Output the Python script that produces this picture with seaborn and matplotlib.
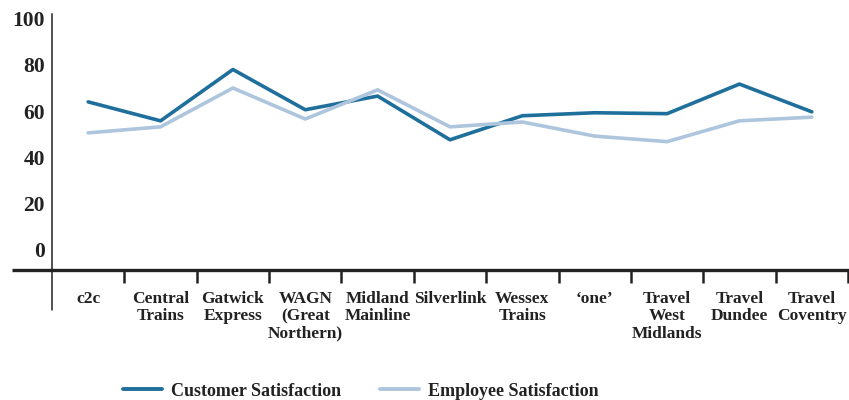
import pandas as pd
import numpy as np
import matplotlib
matplotlib.use('Agg')
import matplotlib.pyplot as plt
import seaborn as sns
from matplotlib.lines import Line2D

# Operators and satisfaction scores
operators = ['c2c', 'Central\nTrains', 'Gatwick\nExpress', 'WAGN\n(Great\nNorthern)',
             'Midland\nMainline', 'Silverlink', 'Wessex\nTrains', '\u2018one\u2019',
             'Travel\nWest\nMidlands', 'Travel\nDundee', 'Travel\nCoventry']
customer = [64.0, 55.8, 78.0, 60.6, 66.5, 47.6, 58.0, 59.3, 58.9, 71.7, 59.7]
employee = [50.6, 53.2, 70.0, 56.6, 69.2, 53.2, 55.3, 49.2, 46.8, 55.8, 57.4]
y_ticks = [0, 20, 40, 60, 80, 100]

df = pd.DataFrame({
    'pos': list(range(len(operators))) * 2,
    'value': customer + employee,
    'series': ['Customer Satisfaction'] * len(operators) + ['Employee Satisfaction'] * len(operators),
})

sns.set_style('white')
plt.rcParams['font.family'] = ['Liberation Serif', 'DejaVu Serif']
plt.rcParams['font.weight'] = 'bold'

dark = '#222222'
blue = '#1f6f9c'
light = '#adc5dd'

fig = plt.figure(figsize=(8.49, 4.0), dpi=100)
ax = fig.add_axes([52 / 849, 130 / 400, 796 / 849, 256 / 400])

sns.lineplot(data=df, x='pos', y='value', hue='series',
             palette=[blue, light], linewidth=2.6, ax=ax, legend=False)

ax.set_xlim(-0.5, len(operators) - 0.5)
ax.set_ylim(-8.7, 102)
ax.set_xlabel('')
ax.set_ylabel('')

for s in ['top', 'right']:
    ax.spines[s].set_visible(False)
ax.spines['left'].set_linewidth(1.1)
ax.spines['left'].set_color(dark)
ax.spines['bottom'].set_linewidth(2.4)
ax.spines['bottom'].set_color(dark)

# extend the axis lines as in the reference
ax.plot([0, 0], [0, -40 / 256], transform=ax.transAxes, color=dark,
        lw=1.1, clip_on=False)
ax.plot([-40 / 796, 0], [0, 0], transform=ax.transAxes, color=dark,
        lw=2.4, clip_on=False, solid_capstyle='butt')

ax.set_yticks(y_ticks)
ax.set_yticklabels([str(v) for v in y_ticks], fontsize=15.5, fontweight='bold', color=dark)
ax.tick_params(axis='y', left=False, length=0, pad=5)

ax.set_xticks(range(len(operators)))
ax.set_xticklabels(operators, fontsize=12.5, fontweight='bold', color=dark,
                   linespacing=1.12)
ax.set_xticks(np.arange(0.5, len(operators), 1.0), minor=True)
ax.tick_params(axis='x', which='major', bottom=False, length=0, pad=15)
ax.tick_params(axis='x', which='minor', bottom=True, length=9, width=1.8,
               color=dark, direction='out')

handles = [Line2D([], [], color=blue, lw=2.8),
           Line2D([], [], color=light, lw=2.8)]
fig.legend(handles, ['Customer Satisfaction', 'Employee Satisfaction'],
           loc='center', bbox_to_anchor=(0.425, 0.022), ncol=2, frameon=False,
           prop={'size': 13, 'weight': 'bold'}, handlelength=2.2,
           handletextpad=0.5, columnspacing=2.1, labelcolor=dark)

fig.savefig('out.png', dpi=100)
